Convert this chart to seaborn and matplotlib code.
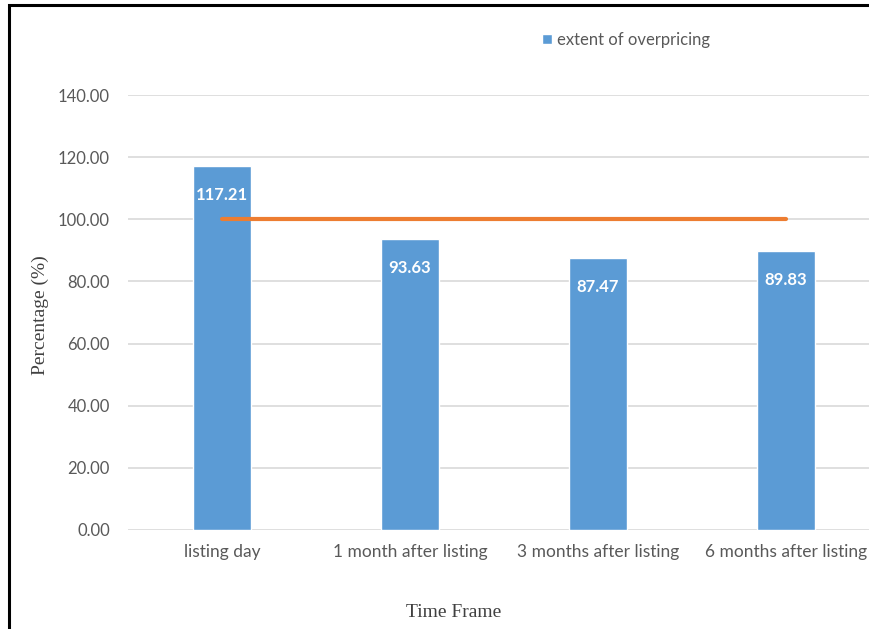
import matplotlib
matplotlib.use("Agg")
import matplotlib.pyplot as plt
from matplotlib.patches import Rectangle
import seaborn as sns
import pandas as pd

# Data
time_frames = ["listing day", "1 month after listing", "3 months after listing", "6 months after listing"]
overpricing = [117.21, 93.63, 87.47, 89.83]
benchmark = [100.0, 100.0, 100.0, 100.0]
y_ticks = [0, 20, 40, 60, 80, 100, 120, 140]

df = pd.DataFrame({"frame": time_frames, "value": overpricing, "bench": benchmark})

BLUE = "#5b9bd5"
ORANGE = "#ed7d31"
GREY = "#595959"

sns.set_theme(style="white")
plt.rcParams["font.family"] = ["Lato", "DejaVu Sans"]

fig = plt.figure(figsize=(8.70, 6.29), dpi=100)
ax = fig.add_axes([128 / 870, 1 - 530 / 629, (870 - 128) / 870, 435 / 629])

sns.barplot(data=df, x="frame", y="value", order=time_frames, color=BLUE,
            saturation=1, width=0.31, ax=ax, label="extent of overpricing", zorder=2)
sns.pointplot(data=df, x="frame", y="bench", order=time_frames, color=ORANGE,
              errorbar=None, markersize=0, linewidth=3, ax=ax, zorder=3)

ax.bar_label(ax.containers[0], labels=[f"{v:.2f}" for v in overpricing],
             padding=-26.5, color="white", fontsize=12, fontweight="bold")

ax.set_ylim(0, 140)
ax.set_xlim(-0.5, 3.5 - 10 / 188)
ax.set_yticks(y_ticks)
ax.set_yticklabels([f"{t:.2f}" for t in y_ticks], color=GREY, fontsize=12)
ax.tick_params(axis="x", colors=GREY, labelsize=12.5, length=0, pad=10)
ax.tick_params(axis="y", length=0, pad=13)
ax.grid(axis="y", color="#d9d9d9", linewidth=1.2, zorder=0)
ax.set_axisbelow(True)
for s in ax.spines.values():
    s.set_visible(False)

ax.set_xlabel("Time Frame", family="Liberation Serif", fontsize=14, color="#404040")
ax.xaxis.set_label_coords(0.439, -0.170)
ax.set_ylabel("Percentage (%)", family="Liberation Serif", fontsize=14, color="#404040")
ax.yaxis.set_label_coords(-0.106, 0.494)

handles, labels = ax.get_legend_handles_labels()
bar_handles = [h for h, l in zip(handles, labels) if l == "extent of overpricing"]
ax.legend(bar_handles[:1], ["extent of overpricing"], loc="center",
          bbox_to_anchor=(626 / 870, 1 - 40 / 629), bbox_transform=fig.transFigure,
          frameon=False, handlelength=0.6, handleheight=0.6, handletextpad=0.3,
          prop={"size": 12}, labelcolor=GREY)

# Outer frame around the figure
fig.patches.append(Rectangle((9 / 870, -0.1), 1.2, 1.1 - 4.5 / 629, transform=fig.transFigure,
                             fill=False, edgecolor="black", linewidth=2.2, zorder=10))

fig.savefig("out.png", dpi=100)
